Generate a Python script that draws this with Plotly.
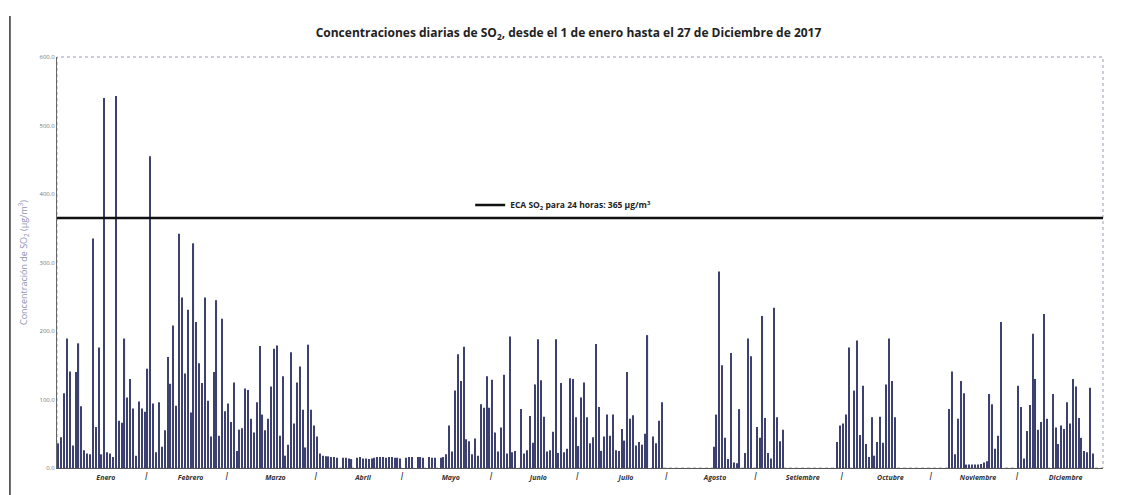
import plotly.graph_objs as go

# daily SO2 (ug/m3); None = no data that day
ene = [36, 45, 109, 189, 141, 33, 140, 182, 90, 26, 21, 20, 335, 60, 176, 20,
       540, 23, 21, 16, 543, 69, 66, 189, 103, 130, 87, 18, 97, 87, 82]
feb = [145, 455, 94, 23, 96, 31, 55, 162, 123, 208, 91, 342, 249, 138, 231, 81,
       328, 213, 153, 124, 249, 98, 46, 140, 245, 47, 218, 83]
mar = [94, 67, 125, 25, 56, 58, 116, 114, 72, 52, 96, 178, 78, 55, 72, 119,
       174, 179, 47, 134, 18, 34, 169, 65, 125, 148, 85, 30, 180, 85, 62]
abr = [46, 21, 18, 17, 17, 16, 16, 15, None, 15, 15, 14, 13, None, 15, 16,
       14, 14, 13, 14, 15, 16, 16, 16, 15, 16, 16, 15, 15, 14]
may = [None, 15, 16, 16, None, 16, 16, 15, None, 16, 15, 15, None, 15, 16, 20,
       62, 24, 113, 166, 127, 177, 42, 39, 20, 43, 18, 93, 88, 134, 88]
jun = [129, 52, 24, 59, 136, 21, 192, 23, 25, None, 86, 21, 26, 76, 37, 122,
       188, 128, 75, 24, 26, 53, 188, 22, 124, 23, 28, 131, 130, 74]
jul = [32, 103, 125, 74, 36, 45, 181, 89, 25, 46, 78, 47, 78, 26, 25, 57,
       40, 140, 72, 77, 33, 38, 34, 50, 194, None, 46, 36, 69, 96, None]
ago = [None] * 16 + [31, 78, 287, 150, 44, 13, 168, 8, 7, 86, None, 22, 189, 163, None]
sep = [60, 44, 222, 73, 22, 14, 234, 74, 39, 56] + [None] * 18 + [38, 62]
octu = [65, 78, 176, None, 113, 186, 48, 120, 35, 16, 74, 18, 38, 75, 37, 122,
        189, 127, 74] + [None] * 12
nov = [None] * 6 + [86, 141, 20, 72, 127, 109, 5, 5, 5, 5, 5, 6, 8, 10, 108, 93,
                    28, 47, 213] + [None] * 5
dic = [120, 89, 14, 54, 92, 196, 130, 56, 67, 225, 72, None, 108, 59, 35, 62,
       57, 96, 65, 130, 119, 73, 44, 25, 23, 117, 21]

meses = ['Enero', 'Febrero', 'Marzo', 'Abril', 'Mayo', 'Junio', 'Julio',
         'Agosto', 'Setiembre', 'Octubre', 'Noviembre', 'Diciembre']
dias_mes = [31, 28, 31, 30, 31, 30, 31, 31, 30, 31, 30, 31]
eca = 365

series = [ene, feb, mar, abr, may, jun, jul, ago, sep, octu, nov, dic]
valores = [v for mes in series for v in mes]
dias = list(range(1, len(valores) + 1))

# month labels near the middle of each month, "I" marks on month boundaries
tickvals, ticktext = [], []
inicio = 0
for i, (m, n) in enumerate(zip(meses, dias_mes)):
    tickvals.append(inicio + n / 2 + 2)
    ticktext.append('<i><b>' + m + '</b></i>')
    if i < 11:
        tickvals.append(inicio + n + 0.5)
        ticktext.append('<span style="font-size:10px"><i>I</i></span>')
    inicio += n

xmax = 364.5

fig = go.Figure()

fig.add_trace(
    go.Bar(
        x=dias,
        y=valores,
        marker_color='#3c4170',
        marker_line_width=0,
        showlegend=False,
        hoverinfo='x+y'
    )
)

fig.add_trace(
    go.Scatter(
        x=[0.5, xmax],
        y=[eca, eca],
        mode='lines',
        line=dict(color='#111111', width=2.5),
        name='<b>ECA SO<sub>2</sub> para 24 horas: 365 µg/m<sup>3</sup></b>'
    )
)

# the page body has an 8px margin, so the figure is sized to sit in the window
fig.update_layout(
    width=1121,
    height=487,
    autosize=False,
    margin=dict(l=49, r=26, t=49, b=27),
    paper_bgcolor='white',
    plot_bgcolor='white',
    bargap=0.6,
    font=dict(family='Open Sans, sans-serif', color='#333333'),
    title=dict(
        text='<b>Concentraciones diarias de SO<sub>2</sub>, desde el 1 de enero hasta el 27 de Diciembre de 2017</b>',
        x=0.5, xanchor='center',
        y=1 - 25 / 487, yanchor='middle',
        font=dict(size=12, color='#222222')
    ),
    showlegend=True,
    legend=dict(
        x=0.395, xanchor='left',
        y=0.64, yanchor='middle',
        bgcolor='rgba(0,0,0,0)',
        font=dict(size=8.5, color='#222222'),
        itemwidth=30,
        tracegroupgap=0
    ),
    shapes=[
        dict(type='rect', xref='paper', yref='paper', x0=0, x1=1, y0=0, y1=1,
             line=dict(color='#9a9cb4', width=1, dash='dot'), layer='below'),
        dict(type='line', xref='paper', yref='paper', x0=-0.045, x1=-0.045, y0=-0.066, y1=1.1,
             line=dict(color='#333333', width=1.5))
    ]
)

fig.update_xaxes(
    range=[0.5, xmax],
    tickvals=tickvals,
    ticktext=ticktext,
    tickangle=0,
    ticks='',
    ticklabelstandoff=3,
    tickfont=dict(size=7, color='#333333'),
    showgrid=False,
    zeroline=False,
    showline=True,
    linecolor='#555555',
    linewidth=1
)

fig.update_yaxes(
    range=[0, 600],
    tickvals=[0, 100, 200, 300, 400, 500, 600],
    tickformat='.1f',
    tickfont=dict(size=6, color='#777777'),
    ticks='',
    showgrid=False,
    zeroline=False,
    showline=True,
    linecolor='#666666',
    linewidth=1,
    title=dict(text='Concentración de SO<sub>2</sub> (µg/m<sup>3</sup>)',
               font=dict(size=9, color='#8a92b8'), standoff=10)
)

fig.write_html('out.html')
